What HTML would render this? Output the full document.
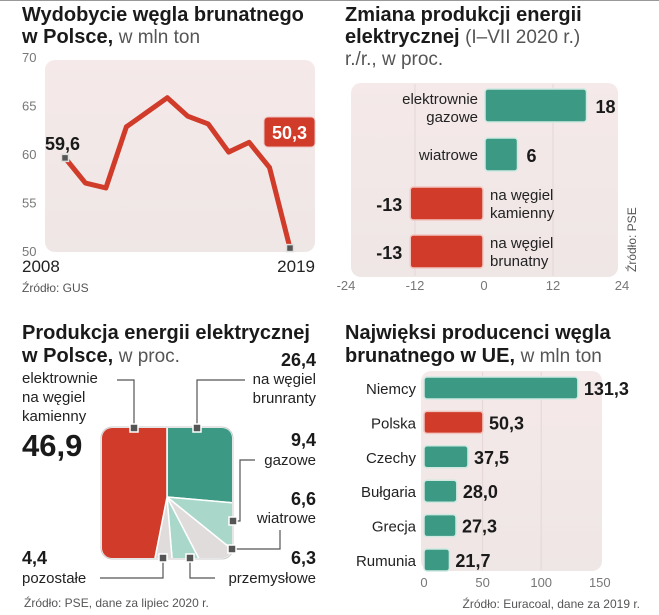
<!DOCTYPE html>
<html><head><meta charset="utf-8"><style>
html,body{margin:0;padding:0;background:#fff;width:659px;height:615px;overflow:hidden;position:relative;}
svg{display:block;position:absolute;left:0;top:0;overflow:hidden;font-family:"Liberation Sans",sans-serif;}
script{display:none;}
.t{font-weight:bold;font-size:20px;fill:#1a1a1a;}
.tn{font-weight:normal;font-size:19px;fill:#555;}
.tick{font-size:13px;fill:#777;}
.lab{font-size:15px;fill:#222;}
.val{font-weight:bold;font-size:18px;fill:#1a1a1a;}
.src{font-size:12px;fill:#555;}
</style></head><body>
<svg id="root" width="659" height="615" viewBox="0 0 659 615">
<defs>
<linearGradient id="bg" x1="0" y1="0" x2="0" y2="1"><stop offset="0" stop-color="#f5e9e9"/><stop offset="1" stop-color="#efe6e6"/></linearGradient>
<clipPath id="pieclip"><rect x="102" y="428" width="130" height="130" rx="10"/></clipPath>
</defs>
<line x1="0" y1="0.5" x2="659" y2="0.5" stroke="#999"/>
<g id="p1">
<text x="22" y="21" class="t">Wydobycie węgla brunatnego</text>
<text x="22" y="43" class="t">w Polsce, <tspan class="tn">w mln ton</tspan></text>
<rect x="45" y="60" width="270" height="192" rx="10" fill="url(#bg)"/>
<text x="22" y="272" font-size="17" fill="#222">2008</text>
<text x="315" y="272" font-size="17" fill="#222" text-anchor="end">2019</text>
<text x="22" y="292" class="src">Źródło: GUS</text>
</g>
<g id="p2">
<text x="345" y="21" class="t">Zmiana produkcji energii</text>
<text x="345" y="43" class="t">elektrycznej <tspan class="tn">(I–VII 2020 r.)</tspan></text>
<text x="345" y="65" class="tn">r./r., w proc.</text>
<rect x="351" y="83" width="267" height="194" rx="10" fill="url(#bg)"/>
<text transform="translate(636,272) rotate(-90)" class="src">Źródło: PSE</text>
</g>
<g id="p3">
<text x="22" y="339" class="t">Produkcja energii elektrycznej</text>
<text x="22" y="362" class="t">w Polsce, <tspan class="tn">w proc.</tspan></text>
<rect x="101" y="427" width="132" height="132" rx="11" fill="none" stroke="#ccc"/>
<g id="pie" clip-path="url(#pieclip)"></g>
<g id="leaders" stroke="#555" stroke-width="1.2" fill="none">
<polyline points="117,380 134,380 134,428"/>
<polyline points="245,380 197,380 197,428"/>
<polyline points="255,460 240,460 240,521 233,521"/>
<polyline points="280,530 280,549 232,549"/>
<polyline points="100,578 163,578 163,558"/>
<polyline points="215,578 190,578 190,558"/>
</g>
<g id="markers" fill="#555" stroke="#fff" stroke-width="1.5">
<rect x="130" y="424" width="8" height="8"/>
<rect x="193" y="424" width="8" height="8"/>
<rect x="229" y="517" width="8" height="8"/>
<rect x="228" y="545" width="8" height="8"/>
<rect x="159" y="554" width="8" height="8"/>
<rect x="186" y="554" width="8" height="8"/>
</g>
<g class="lab" font-size="15">
<text x="22" y="383">elektrownie</text>
<text x="22" y="402">na węgiel</text>
<text x="22" y="421">kamienny</text>
<text x="22" y="456" font-weight="bold" font-size="31" fill="#1a1a1a">46,9</text>
<text x="316" y="366" text-anchor="end" class="val">26,4</text>
<text x="316" y="384" text-anchor="end">na węgiel</text>
<text x="316" y="403" text-anchor="end">brunranty</text>
<text x="316" y="446" text-anchor="end" class="val">9,4</text>
<text x="316" y="465" text-anchor="end">gazowe</text>
<text x="316" y="505" text-anchor="end" class="val">6,6</text>
<text x="316" y="523" text-anchor="end">wiatrowe</text>
<text x="316" y="564" text-anchor="end" class="val">6,3</text>
<text x="316" y="583" text-anchor="end">przemysłowe</text>
<text x="22" y="564" class="val">4,4</text>
<text x="22" y="583">pozostałe</text>
</g>
<text x="24" y="607" class="src">Źródło: PSE, dane za lipiec 2020 r.</text>
</g>
<g id="p4">
<text x="345" y="339" class="t">Najwięksi producenci węgla</text>
<text x="345" y="362" class="t">brunatnego w UE, <tspan class="tn">w mln ton</tspan></text>
<rect x="421" y="371" width="181" height="200" rx="10" fill="url(#bg)"/>
<text x="640" y="608" class="src" text-anchor="end">Źródło: Euracoal, dane za 2019 r.</text>
</g>
</svg>
<script>
var NS="http://www.w3.org/2000/svg";
// Chart 1 data
var years=[2008,2009,2010,2011,2012,2013,2014,2015,2016,2017,2018,2019];
var output=[59.6,57.0,56.5,62.8,64.3,65.8,63.9,63.1,60.2,61.2,58.6,50.3];
var yTicks1=[50,55,60,65,70];
// Chart 2 data
var cat2=["elektrownie gazowe","wiatrowe","na węgiel kamienny","na węgiel brunatny"];
var change=[18,6,-13,-13];
var xTicks2=[-24,-12,0,12,24];
// Chart 3 data
var pieCats=["na węgiel brunatny","gazowe","wiatrowe","przemysłowe","pozostałe","na węgiel kamienny"];
var pieVals=[26.4,9.4,6.6,6.3,4.4,46.9];
// Chart 4 data
var countries=["Niemcy","Polska","Czechy","Bułgaria","Grecja","Rumunia"];
var prod=[131.3,50.3,37.5,28.0,27.3,21.7];
var xTicks4=[0,50,100,150];

function mk(tag,attrs,parent,txt){var e=document.createElementNS(NS,tag);for(var k in attrs)e.setAttribute(k,attrs[k]);if(txt!==undefined)e.textContent=txt;parent.appendChild(e);return e;}
var RED="#d03b2a",GREEN="#3b9984",LGREEN="#a9d8ca",LGRAY="#e0dcdc";
function fmt(v){return v.toFixed(1).replace(".",",");}

var p1=document.getElementById("p1");
function x1(i){return 65+(i)*(225/(years.length-1));}
function y1(v){return 251-(v-50)*9.7;}
yTicks1.forEach(function(t){var e=mk("text",{x:22,y:y1(t)+5,"class":"tick"},p1,String(t));

});
var pts=output.map(function(v,i){return x1(i)+","+y1(v);}).join(" ");
var ln=mk("polyline",{points:pts,fill:"none",stroke:RED,"stroke-width":5,"stroke-linejoin":"round"},p1);


[0,output.length-1].forEach(function(i){var m=mk("rect",{x:x1(i)-3.5,y:y1(output[i])-3.5,width:7,height:7,fill:"#555",stroke:"#ddd","stroke-width":1.5},p1);

});
var fl=mk("text",{x:x1(0)-20,y:y1(output[0])-8,"class":"val"},p1,fmt(output[0]));


var lb=mk("rect",{x:264,y:117,width:51,height:30,rx:4,fill:RED,stroke:"#f0c0c0"},p1);


var lt=mk("text",{x:289.5,y:139,"class":"val","text-anchor":"middle",fill:"#fff",style:"fill:#fff"},p1,fmt(output[output.length-1]));



var p2=document.getElementById("p2");
function x2(v){return 484+v*5.75;}
[-12,12].forEach(function(t){var g=mk("line",{x1:x2(t),x2:x2(t),y1:84,y2:276,stroke:"#e4d6d6"},p2);

});
xTicks2.forEach(function(t){var e=mk("text",{x:x2(t),y:290,"class":"tick","text-anchor":"middle"},p2,String(t));

});
var rowsY=[89,138,187,235];
change.forEach(function(v,i){
 var y=rowsY[i],h=33,x0=Math.min(x2(0),x2(v)),w=Math.abs(x2(v)-x2(0));
 var b=mk("rect",{x:x0+1,y:y,width:w-2,height:h,rx:3,fill:v>0?GREEN:RED,stroke:v>0?"#cfe9e1":"#f2c6c0","stroke-width":1.5},p2);
 
 
 var words=cat2[i].split(" "),lines;
 if(i==0)lines=["elektrownie","gazowe"];else if(i==1)lines=["wiatrowe"];else lines=[words[0]+" "+words[1],words[2]];
 var val;
 if(v>0){
  lines.forEach(function(l,k){var e=mk("text",{x:478,y:y+(lines.length==1?22:15+k*18),"class":"lab","text-anchor":"end"},p2,l);
  
  });
  val=mk("text",{x:x2(v)+8,y:y+24,"class":"val"},p2,String(v));
 } else {
  lines.forEach(function(l,k){var e=mk("text",{x:490,y:y+13+k*18,"class":"lab"},p2,l);
  
  });
  val=mk("text",{x:x2(v)-7,y:y+24,"class":"val","text-anchor":"end"},p2,String(v));
 }
 
 
});

var pie=document.getElementById("pie");
var cx=167,cy=497,R=200,tot=pieVals.reduce(function(a,b){return a+b;},0),acc=0;
var cols=[GREEN,LGREEN,LGRAY,LGREEN,LGRAY,RED];
pieVals.forEach(function(v,i){
 var a0=acc/tot*2*Math.PI;acc+=v;var a1=acc/tot*2*Math.PI;
 var sx=cx+R*Math.sin(a0),sy=cy-R*Math.cos(a0),ex=cx+R*Math.sin(a1),ey=cy-R*Math.cos(a1);
 var large=(a1-a0)>Math.PI?1:0;
 var s=mk("path",{d:"M"+cx+","+cy+" L"+sx+","+sy+" A"+R+","+R+" 0 "+large+" 1 "+ex+","+ey+" Z",fill:cols[i],stroke:"#fff","stroke-width":1.5},pie);
 
 
});

var p4=document.getElementById("p4");
function x4(v){return 424+v*1.172;}
[50,100].forEach(function(t){var g=mk("line",{x1:x4(t),x2:x4(t),y1:372,y2:570,stroke:"#e4d6d6"},p4);

});
xTicks4.forEach(function(t){var e=mk("text",{x:x4(t),y:587,"class":"tick","text-anchor":"middle"},p4,String(t));

});
countries.forEach(function(c,i){
 var cyy=388+i*34.4;
 var b=mk("rect",{x:x4(0),y:cyy-11,width:x4(prod[i])-x4(0),height:22,rx:3,fill:i==1?RED:GREEN,stroke:i==1?"#f2c6c0":"#cfe9e1","stroke-width":1.5},p4);
 
 
 var l=mk("text",{x:416,y:cyy+6,"class":"lab","text-anchor":"end"},p4,c);
 
 
 var v=mk("text",{x:x4(prod[i])+6,y:cyy+7,"class":"val"},p4,fmt(prod[i]));
 
 
});
</script>
</body></html>
